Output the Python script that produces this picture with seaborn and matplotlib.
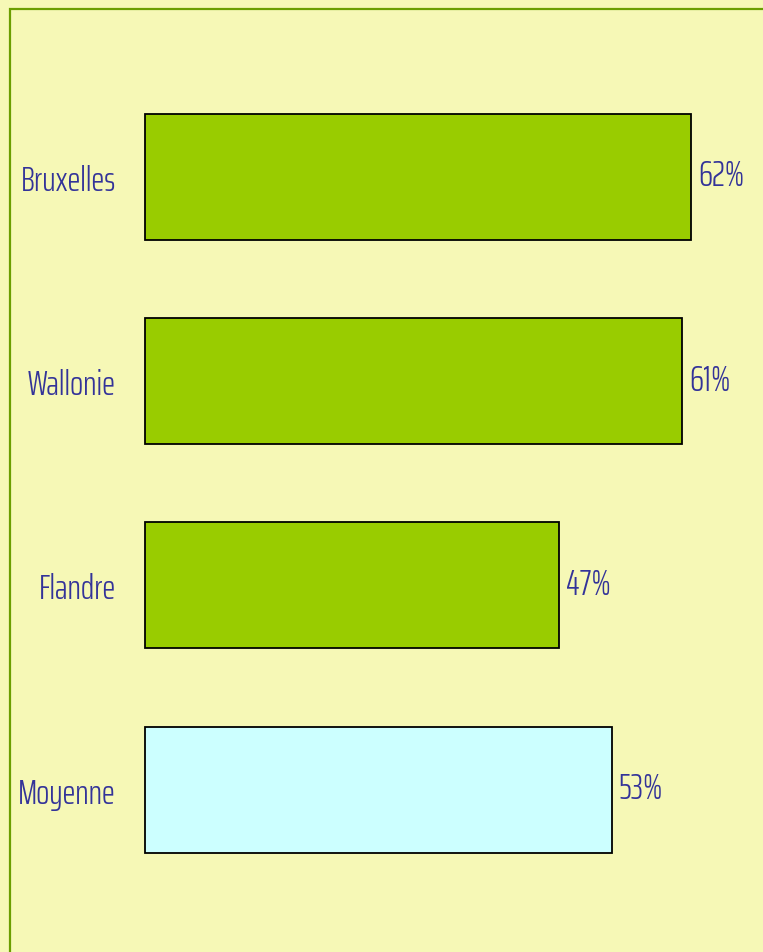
import matplotlib
matplotlib.use('Agg')
import matplotlib.pyplot as plt
import seaborn as sns
import pandas as pd
from matplotlib.patches import Rectangle

# données
regions = ['Bruxelles', 'Wallonie', 'Flandre', 'Moyenne']
valeurs = [62, 61, 47, 53]
couleurs = ['#99CC00', '#99CC00', '#99CC00', '#CCFFFF']

fond = '#F6F8B6'
texte = '#333399'

sns.set_style('white')
plt.rcParams['font.family'] = ['Saira ExtraCondensed', 'DejaVu Sans']
plt.rcParams['font.weight'] = 300

df = pd.DataFrame({'region': regions, 'valeur': valeurs})

fig = plt.figure(figsize=(7.63, 9.53), dpi=100, facecolor=fond)
ax = fig.add_axes([145 / 763, 0, (763 - 145) / 763, 1])
ax.set_facecolor('none')

sns.barplot(data=df, y='region', x='valeur', hue='region', palette=couleurs,
            legend=False, width=0.616, edgecolor='black', linewidth=1.3,
            saturation=1, ax=ax)
for p in ax.patches:
    p.set_clip_on(False)

ax.set_xlim(0, 70.15)
ax.set_ylim(3.794, -0.870)
for s in ax.spines.values():
    s.set_visible(False)
ax.set_xticks([])
ax.set_xlabel('')
ax.set_ylabel('')
ax.tick_params(axis='y', length=0, pad=21, labelsize=25, labelcolor=texte)

# étiquettes de valeurs
for bar, v in zip(ax.patches, valeurs):
    ax.annotate(f'{v}%', (bar.get_width(), bar.get_y() + bar.get_height() / 2),
                xytext=(5, 1), textcoords='offset points',
                va='center', ha='left', fontsize=26, color=texte)

# cadre vert
fig.patches.append(Rectangle((9.5 / 763, -0.1), 2, 1 - 9.5 / 953 + 0.1,
                             transform=fig.transFigure, fill=False,
                             edgecolor='#6B9E00', linewidth=1.6))

fig.savefig('out.png', dpi=100, facecolor=fond)
